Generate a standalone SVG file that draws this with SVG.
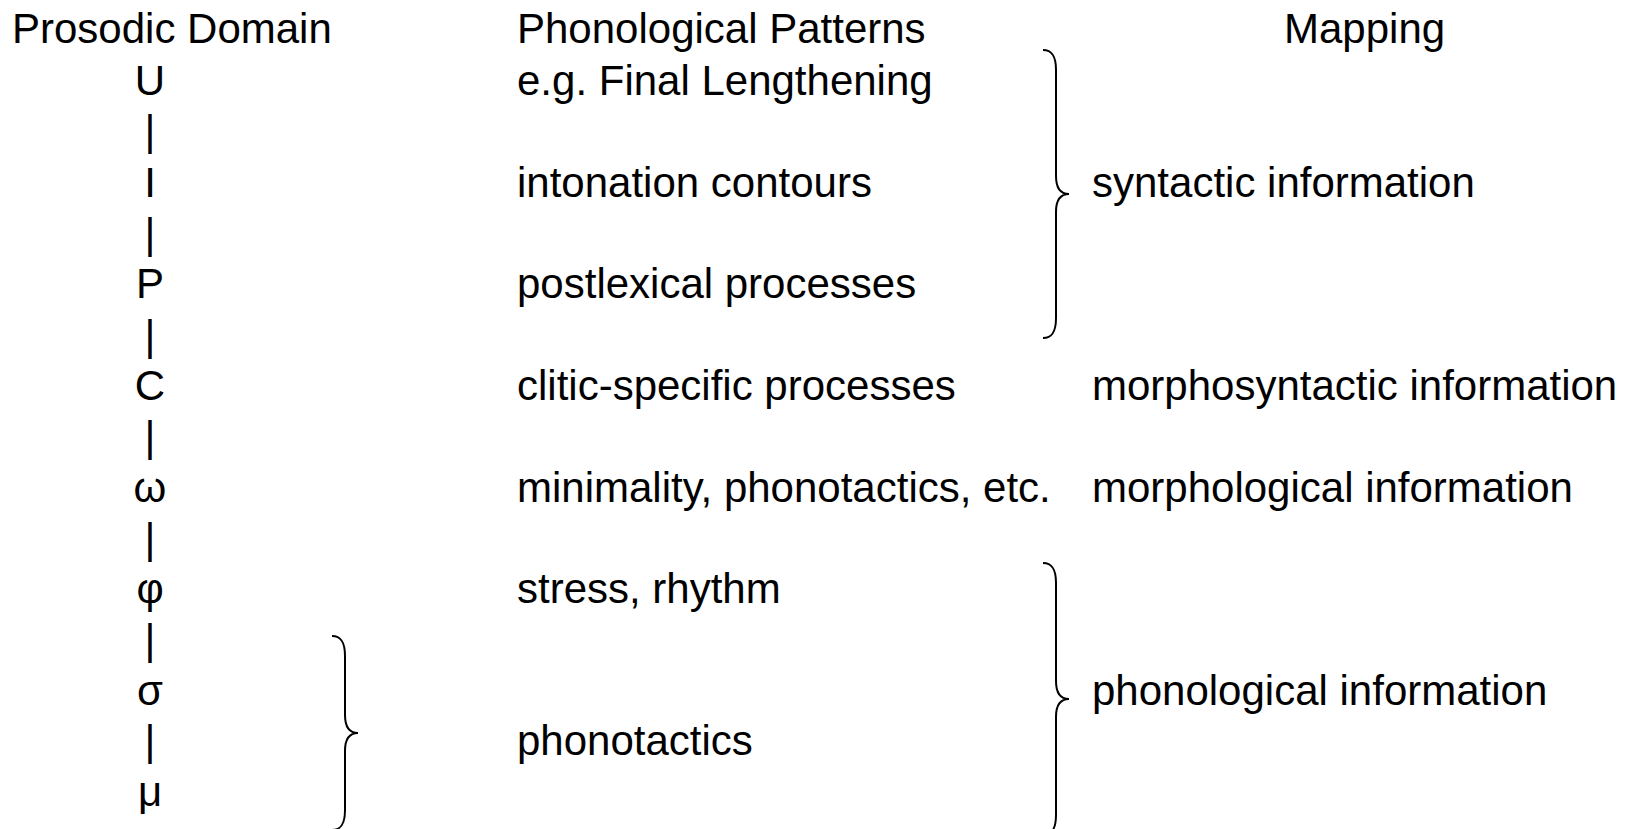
<svg xmlns="http://www.w3.org/2000/svg" width="1645" height="829" viewBox="0 0 1645 829">
<style>
text{font-family:"Liberation Sans",Arial,sans-serif;font-size:42px;fill:#000}
.c{text-anchor:middle}
.brace{fill:none;stroke:#000;stroke-width:2}
</style>
<rect width="1645" height="829" fill="#fff"/>
<g id="headers">
<text x="12" y="43">Prosodic Domain</text>
<text x="517" y="43">Phonological Patterns</text>
<text x="1284" y="43">Mapping</text>
</g>
<g id="domains">
<g id="n-U"><text class="c" x="150" y="95">U</text></g>
<g id="n-I"><text class="c" x="150" y="197">I</text></g>
<g id="n-P"><text class="c" x="150" y="298">P</text></g>
<g id="n-C"><text class="c" x="150" y="400">C</text></g>
<g id="n-omega"><text class="c" x="150" y="502">ω</text></g>
<g id="n-phi"><text class="c" x="150" y="603">φ</text></g>
<g id="n-sigma"><text class="c" x="150" y="705">σ</text></g>
<g id="n-mu"><text class="c" x="150" y="806">μ</text></g>
</g>
<g id="patterns">
<g id="p1"><text x="517" y="95">e.g. Final Lengthening</text></g>
<g id="p2"><text x="517" y="197">intonation contours</text></g>
<g id="p3"><text x="517" y="298">postlexical processes</text></g>
<g id="p4"><text x="517" y="400">clitic-specific processes</text></g>
<g id="p5"><text x="517" y="502">minimality, phonotactics, etc.</text></g>
<g id="p6"><text x="517" y="603">stress, rhythm</text></g>
<g id="p7"><text x="517" y="755">phonotactics</text></g>
</g>
<g id="mapping">
<g id="m1"><text x="1092" y="197">syntactic information</text></g>
<g id="m2"><text x="1092" y="400">morphosyntactic information</text></g>
<g id="m3"><text x="1092" y="502">morphological information</text></g>
<g id="m4"><text x="1092" y="705">phonological information</text></g>
</g>
<g id="connectors">
<text class="c" x="150" y="145">|</text>
<text class="c" x="150" y="248">|</text>
<text class="c" x="150" y="350">|</text>
<text class="c" x="150" y="451">|</text>
<text class="c" x="150" y="553">|</text>
<text class="c" x="150" y="654">|</text>
<text class="c" x="150" y="755">|</text>
<path class="brace" d="M1043,50 C1052,50 1056,56 1056,70 L1056,176 C1056,188 1060,194 1069,194 C1060,194 1056,200 1056,212 L1056,318 C1056,332 1052,338 1043,338"/>
<path class="brace" d="M1043,563 C1052,563 1056,569 1056,583 L1056,681 C1056,693 1060,699 1069,699 C1060,699 1056,705 1056,717 L1056,815 C1056,829 1052,835 1043,835"/>
<path class="brace" d="M332,636 C341,636 345,642 345,656 L345,715 C345,727 349,733 358,733 C349,733 345,739 345,751 L345,810 C345,824 341,830 332,830"/>
</g>
</svg>
